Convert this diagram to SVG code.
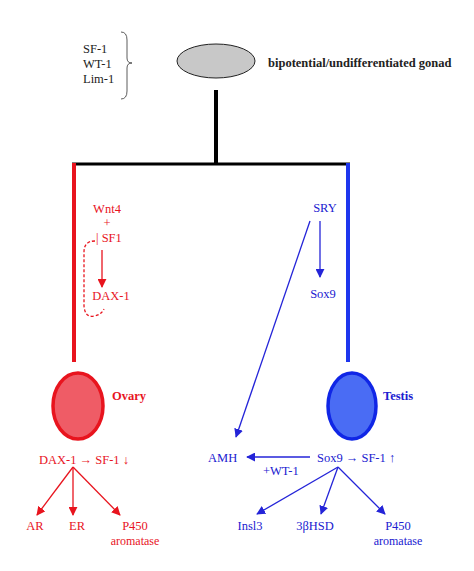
<svg xmlns="http://www.w3.org/2000/svg" width="474" height="571" viewBox="0 0 474 571">
<style>
text{font-family:"Liberation Serif","Times New Roman",serif;font-size:12.5px}
.r{fill:#e8141e}
.b{fill:#2020d0}
.k{fill:#222}
.bold{font-weight:bold}
.sm{font-size:12px}
.rl{stroke:#e8141e;stroke-width:1.3;fill:none}
.bl{stroke:#2424d8;stroke-width:1.3;fill:none}
</style>
<defs>
<marker id="ar" viewBox="0 0 10 10" refX="9" refY="5" markerWidth="9" markerHeight="9" orient="auto" markerUnits="userSpaceOnUse"><path d="M0,0 L10,5 L0,10 z" fill="#e8141e"/></marker>
<marker id="ab" viewBox="0 0 10 10" refX="9" refY="5" markerWidth="9" markerHeight="9" orient="auto" markerUnits="userSpaceOnUse"><path d="M0,0 L10,5 L0,10 z" fill="#2424d8"/></marker>
</defs>
<rect width="474" height="571" fill="#fff"/>

<g id="factors">
<text class="k" x="83" y="53">SF-1</text>
<text class="k" x="83" y="68">WT-1</text>
<text class="k" x="83" y="83">Lim-1</text>
<path d="M121,32 Q127,32 127,40 L127,58 Q127,63 132,63 Q127,63 127,68 L127,91 Q127,99 121,99" fill="none" stroke="#333" stroke-width="0.8"/>
</g>

<g id="gonad">
<ellipse cx="216" cy="61" rx="39" ry="17" fill="#c8c8c8" stroke="#222" stroke-width="1"/>
<text class="k bold" x="268" y="67" font-size="11.5">bipotential/undifferentiated gonad</text>
</g>

<g id="connectors">
<path d="M216,90 V164" stroke="#000" stroke-width="4" fill="none"/>
<path d="M72,164 H350" stroke="#000" stroke-width="3" fill="none"/>
<path d="M74,163 V362" stroke="#e8141e" stroke-width="4" fill="none"/>
<path d="M348,163 V362" stroke="#1e36ee" stroke-width="4" fill="none"/>
<path class="rl" d="M102,250 V287" marker-end="url(#ar)"/>
<path class="rl" d="M95,241 Q84,241 84,252 L84,306 Q85,318 94,316 Q101,315 104,309" stroke-dasharray="3,2" stroke-width="1"/>
<path class="bl" d="M320,221 V277" marker-end="url(#ab)"/>
<path class="bl" d="M310,221 L236,437" marker-end="url(#ab)"/>
<path class="bl" d="M310,457 H247" marker-end="url(#ab)"/>
<path class="rl" d="M73,467 L37,515" marker-end="url(#ar)"/>
<path class="rl" d="M73,467 V515" marker-end="url(#ar)"/>
<path class="rl" d="M73,467 L120,515" marker-end="url(#ar)"/>
<path class="bl" d="M338,467 L257,514" marker-end="url(#ab)"/>
<path class="bl" d="M338,467 L321,514" marker-end="url(#ab)"/>
<path class="bl" d="M338,467 L385,514" marker-end="url(#ab)"/>
</g>

<g id="ovary-path">
<text class="r" x="107" y="213" text-anchor="middle">Wnt4</text>
<text class="r" x="107" y="227" text-anchor="middle">+</text>
<text class="r" x="96" y="242">| SF1</text>
<text class="r" x="111" y="300" text-anchor="middle">DAX-1</text>
</g>

<g id="ovary">
<ellipse cx="78" cy="406" rx="25" ry="33" fill="#ef5c66" stroke="#e8141e" stroke-width="3.5"/>
<text class="r bold" x="112" y="400">Ovary</text>
</g>

<g id="ovary-genes">
<text class="r" x="39" y="464">DAX-1 → SF-1 ↓</text>
<text class="r" x="35" y="530" text-anchor="middle">AR</text>
<text class="r" x="77" y="530" text-anchor="middle">ER</text>
<text class="r" x="135" y="530" text-anchor="middle">P450</text>
<text class="r sm" x="135" y="545" text-anchor="middle">aromatase</text>
</g>

<g id="testis-path">
<text class="b" x="325" y="212" text-anchor="middle">SRY</text>
<text class="b" x="323" y="298" text-anchor="middle">Sox9</text>
</g>

<g id="testis">
<ellipse cx="352" cy="406" rx="24" ry="33" fill="#4a6cf4" stroke="#1026e6" stroke-width="3.5"/>
<text class="b bold" x="383" y="400">Testis</text>
</g>

<g id="testis-genes">
<text class="b" x="208" y="462">AMH</text>
<text class="b" x="317" y="462">Sox9 → SF-1 ↑</text>
<text class="b" x="263" y="475">+WT-1</text>
<text class="b" x="250" y="530" text-anchor="middle">Insl3</text>
<text class="b" x="315" y="530" text-anchor="middle">3βHSD</text>
<text class="b" x="398" y="530" text-anchor="middle">P450</text>
<text class="b sm" x="398" y="545" text-anchor="middle">aromatase</text>
</g>
</svg>
